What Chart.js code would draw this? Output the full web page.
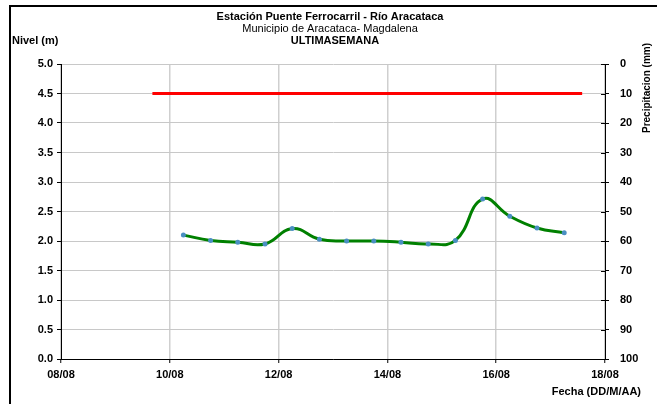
<!DOCTYPE html>
<html>
<head>
<meta charset="utf-8">
<script src="https://cdn.jsdelivr.net/npm/chart.js@4/dist/chart.umd.min.js"></script>
<style>
html,body{margin:0;padding:0;background:#fff;}
canvas{display:block;}
</style>
</head>
<body>
<canvas id="c" width="657" height="404"></canvas>
<script>
// Time of each reading, in days after 08/08 00:00
const readingDays = [2.25, 2.75, 3.25, 3.75, 4.25, 4.75, 5.25, 5.75, 6.25, 6.75, 7.25, 7.75, 8.25, 8.75, 9.25];
// Nivel (m)
const levelValues = [2.10, 2.01, 1.98, 1.95, 2.21, 2.03, 2.00, 2.00, 1.98, 1.95, 2.01, 2.71, 2.42, 2.22, 2.14];
// Red reference line
const redLineDays = [1.68, 9.58];
const redLineLevel = [4.5, 4.5];
// X tick labels (every 2 days from 08/08)
const xTickLabels = ['08/08', '10/08', '12/08', '14/08', '16/08', '18/08'];

const titleLines = ['Estación Puente Ferrocarril - Río Aracataca', 'Municipio de Aracataca- Magdalena', 'ULTIMASEMANA'];
const leftAxisTitle = 'Nivel (m)';
const rightAxisTitle = 'Precipitacion (mm)';
const xAxisTitle = 'Fecha (DD/M/AA)';

const FONT = '"Liberation Sans", Arial, sans-serif';

const levelPoints = readingDays.map((d, i) => ({x: d, y: levelValues[i]}));
const redPoints = redLineDays.map((d, i) => ({x: d, y: redLineLevel[i]}));

const decorPlugin = {
  id: 'decor',
  afterDraw(chart) {
    const ctx = chart.ctx;
    const area = chart.chartArea;
    ctx.save();
    // outer frame (right and bottom edges lie outside the picture)
    ctx.strokeStyle = '#000';
    ctx.lineWidth = 2;
    ctx.strokeRect(10, 6, 660, 410);
    // right axis inner tick halves
    const y2 = chart.scales.y2;
    ctx.lineWidth = 1;
    ctx.beginPath();
    y2.ticks.forEach(t => {
      const py = Math.round(y2.getPixelForValue(t.value)) + 0.5;
      ctx.moveTo(area.right - 4, py);
      ctx.lineTo(area.right, py);
    });
    ctx.stroke();
    // titles
    ctx.fillStyle = '#000';
    ctx.textAlign = 'center';
    ctx.textBaseline = 'middle';
    ctx.font = 'bold 11px ' + FONT;
    ctx.fillText(titleLines[0], 330, 17);
    ctx.font = '11px ' + FONT;
    ctx.fillText(titleLines[1], 330, 29);
    ctx.font = 'bold 11px ' + FONT;
    ctx.fillText(titleLines[2], 335, 41);
    // left axis title
    ctx.textAlign = 'left';
    ctx.fillText(leftAxisTitle, 12, 41);
    // x axis title
    ctx.textAlign = 'right';
    ctx.fillText(xAxisTitle, 641, 392);
    // right axis title (rotated)
    ctx.save();
    ctx.translate(647, 88);
    ctx.rotate(-Math.PI / 2);
    ctx.textAlign = 'center';
    ctx.font = 'bold 10px ' + FONT;
    ctx.fillText(rightAxisTitle, 0, 0);
    ctx.restore();
    ctx.restore();
  }
};

new Chart(document.getElementById('c'), {
  type: 'line',
  data: {
    datasets: [
      {
        data: redPoints,
        borderColor: '#ff0000',
        borderWidth: 3,
        pointRadius: 0,
        tension: 0,
        yAxisID: 'y',
        order: 2
      },
      {
        data: levelPoints,
        borderColor: '#008000',
        borderWidth: 3,
        pointRadius: 2.5,
        pointBackgroundColor: '#4a8fc2',
        pointBorderColor: '#4a8fc2',
        pointBorderWidth: 0,
        tension: 0.45,
        yAxisID: 'y',
        order: 1
      }
    ]
  },
  options: {
    responsive: false,
    animation: false,
    devicePixelRatio: 1,
    layout: {padding: {top: 64, left: 0, right: 0, bottom: 0}},
    plugins: {legend: {display: false}, tooltip: {enabled: false}, title: {display: false}},
    scales: {
      x: {
        type: 'linear',
        min: 0,
        max: 10,
        afterFit(s) { s.height = 45; },
        ticks: {
          stepSize: 2,
          autoSkip: false,
          maxRotation: 0,
          padding: 5,
          color: '#000',
          font: {family: FONT, size: 11, weight: 'bold'},
          callback: v => xTickLabels[Math.round(v / 2)]
        },
        grid: {color: '#cfcfcf', lineWidth: 1.5, tickColor: '#000', tickLength: 4, tickWidth: 1},
        border: {color: '#000', width: 1}
      },
      y: {
        position: 'left',
        min: 0,
        max: 5,
        afterFit(s) { s.width = 61; },
        ticks: {
          stepSize: 0.5,
          padding: 4,
          color: '#000',
          font: {family: FONT, size: 11, weight: 'bold'},
          callback: v => v.toFixed(1)
        },
        grid: {color: '#c8c8c8', lineWidth: 1, tickColor: '#000', tickLength: 4},
        border: {color: '#000', width: 1}
      },
      y2: {
        position: 'right',
        reverse: true,
        min: 0,
        max: 100,
        afterFit(s) { s.width = 52; },
        ticks: {
          stepSize: 10,
          padding: 11,
          color: '#000',
          font: {family: FONT, size: 11, weight: 'bold'}
        },
        grid: {drawOnChartArea: false, tickColor: '#000', tickLength: 4},
        border: {color: '#000', width: 1}
      }
    }
  },
  plugins: [decorPlugin]
});
</script>
</body>
</html>
